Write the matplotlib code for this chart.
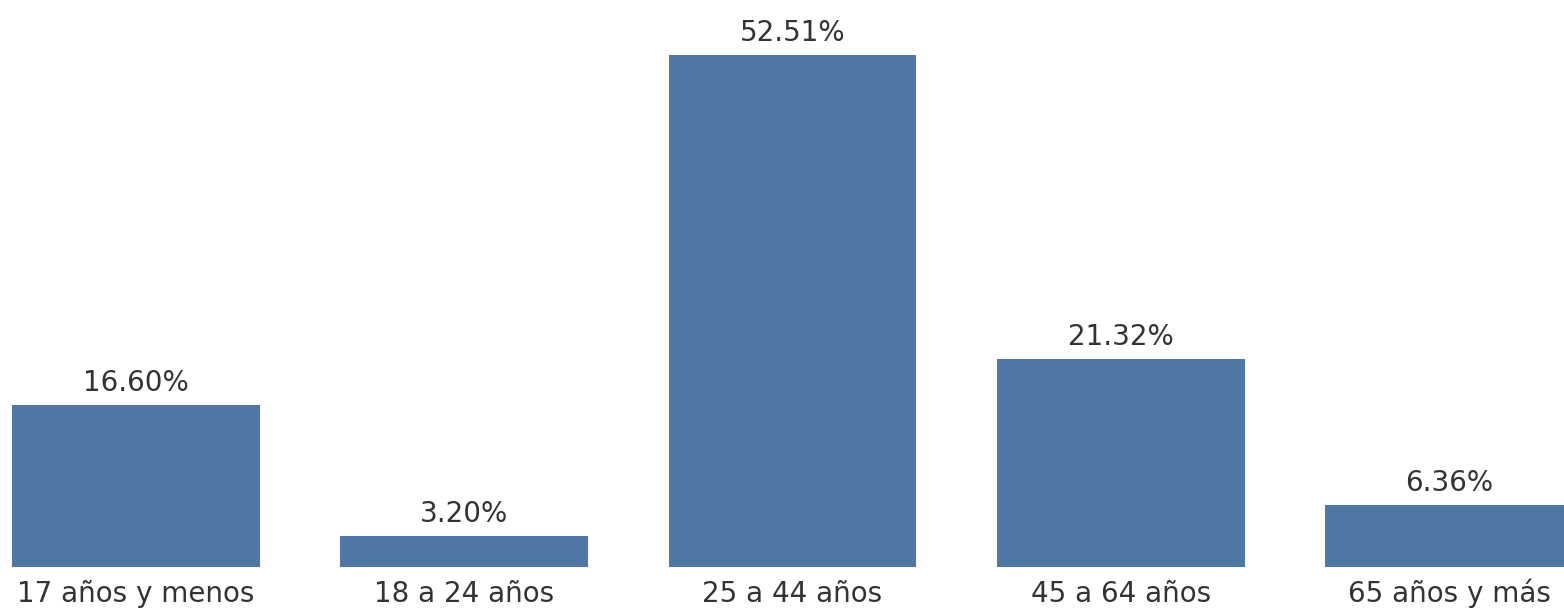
import matplotlib.pyplot as plt
import matplotlib.transforms as mtransforms

# datos
grupos = ["17 años y menos", "18 a 24 años", "25 a 44 años", "45 a 64 años", "65 años y más"]
porcentajes = [16.60, 3.20, 52.51, 21.32, 6.36]

color_barra = "#4e77a5"
color_texto = "#333333"

fig = plt.figure(figsize=(15.64, 6.14), dpi=100)
ax = fig.add_axes([0, 0.0765, 1, 0.9235])

x = list(range(len(grupos)))
barras = ax.bar(x, porcentajes, width=0.755, color=color_barra)

# etiquetas de valor sobre las barras
for b, v in zip(barras, porcentajes):
    ax.annotate(f"{v:.2f}%", (b.get_x() + b.get_width() / 2, v),
                xytext=(0, 10), textcoords="offset points",
                ha="center", va="baseline", fontsize=20, color=color_texto)

# etiquetas de categoria debajo (alineadas por linea base)
trans = mtransforms.blended_transform_factory(ax.transData, ax.transAxes)
for xi, g in zip(x, grupos):
    ax.annotate(g, (xi, 0), xycoords=trans, xytext=(0, -25.5),
                textcoords="offset points", ha="center", va="baseline",
                fontsize=20, color=color_texto, annotation_clip=False)

ax.set_xlim(-0.414, 4.35)
ax.set_ylim(0, 58.15)
ax.set_xticks([])
ax.set_yticks([])
for s in ax.spines.values():
    s.set_visible(False)

fig.savefig("out.png", dpi=100)
